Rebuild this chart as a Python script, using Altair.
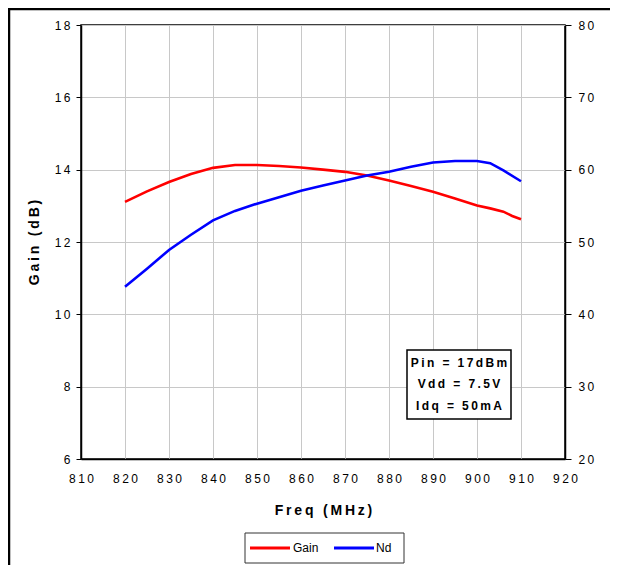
import altair as alt
import pandas as pd

# ---- data ----
freq_gain = [820, 825, 830, 835, 840, 845, 850, 855, 860, 865, 870, 875, 880, 885, 890, 895, 900, 903, 906, 908, 910]
gain_db = [13.11, 13.40, 13.66, 13.88, 14.05, 14.13, 14.13, 14.10, 14.06, 14.00, 13.94, 13.84, 13.70, 13.55, 13.39, 13.20, 13.01, 12.93, 12.84, 12.72, 12.63]

freq_nd = [820, 825, 830, 835, 840, 845, 850, 855, 860, 865, 870, 875, 880, 885, 890, 895, 900, 903, 906, 910]
nd_pct = [43.8, 46.3, 48.9, 51.0, 53.0, 54.3, 55.3, 56.2, 57.1, 57.8, 58.5, 59.2, 59.7, 60.4, 61.0, 61.2, 61.2, 60.9, 59.9, 58.4]

x_ticks = list(range(810, 921, 10))
gain_ticks = list(range(6, 19, 2))
nd_ticks = list(range(20, 81, 10))
series_names = ["Gain", "Nd"]
series_colors = ["#FF0000", "#0000FF"]
note_lines = ["Pin = 17dBm", "Vdd = 7.5V", "Idq = 50mA"]

FONT = "Liberation Sans"
TS = "\u2009"


def spaced(s):
    return TS.join(list(s))


W, H = 484, 434
PAD = {"left": 73, "top": 17, "right": 45, "bottom": 106}

df_gain = pd.DataFrame({"freq": freq_gain, "val": gain_db, "series": "Gain"})
df_nd = pd.DataFrame({"freq": freq_nd, "val": nd_pct, "series": "Nd"})

label_expr = "join(split(datum.label, ''), '" + TS + "')"

x_enc = alt.X(
    "freq:Q",
    scale=alt.Scale(domain=[810, 920], nice=False),
    axis=alt.Axis(
        values=x_ticks,
        title=spaced("Freq (MHz)"),
        titleFont=FONT, titleFontSize=14, titleFontWeight="bold", titleColor="black",
        titleBaseline="top", titleY=44,
        labelFont=FONT, labelFontSize=12, labelColor="black", labelPadding=14,
        labelExpr=label_expr, labelFlush=False, labelOverlap=False,
        ticks=False, tickSize=0,
        domainColor="black", domainWidth=1.5,
        grid=True, gridColor="#c8c8c8", gridWidth=1,
    ),
)

color_scale = alt.Scale(domain=series_names, range=series_colors)
color_enc = alt.Color("series:N", scale=color_scale, legend=None)

gain_line = alt.Chart(df_gain).mark_line(strokeWidth=2.6, clip=False).encode(
    x=x_enc,
    y=alt.Y(
        "val:Q",
        scale=alt.Scale(domain=[6, 18], nice=False),
        axis=alt.Axis(
            values=gain_ticks,
            title=spaced("Gain (dB)"),
            titleFont=FONT, titleFontSize=14, titleFontWeight="bold", titleColor="black",
            titleX=-40, titleY=H / 2,
            labelFont=FONT, labelFontSize=12, labelColor="black", labelPadding=6,
            labelExpr=label_expr,
            tickSize=5, tickColor="black", tickWidth=1,
            domainColor="black", domainWidth=1.5,
            grid=True, gridColor="#c8c8c8", gridWidth=1,
        ),
    ),
    color=color_enc,
)

nd_line = alt.Chart(df_nd).mark_line(strokeWidth=2.6, clip=False).encode(
    x=x_enc,
    y=alt.Y(
        "val:Q",
        scale=alt.Scale(domain=[20, 80], nice=False),
        axis=alt.Axis(
            orient="right",
            values=nd_ticks,
            title=None,
            labelFont=FONT, labelFontSize=12, labelColor="black", labelPadding=7,
            labelExpr=label_expr,
            tickSize=6, tickColor="black", tickWidth=1,
            domainColor="black", domainWidth=1.5,
            grid=False,
        ),
    ),
    color=color_enc,
)

one = pd.DataFrame({"a": [0]})

# annotation box with operating conditions
note_box = alt.Chart(one).mark_rect(
    fill="white", stroke="black", strokeWidth=1.5
).encode(
    x=alt.value(326), x2=alt.value(430), y=alt.value(325), y2=alt.value(394)
)
note_layers = []
for i, line in enumerate(note_lines):
    note_layers.append(
        alt.Chart(one).mark_text(
            font=FONT, fontSize=12, fontWeight="bold", color="black",
            align="center", baseline="middle",
        ).encode(x=alt.value(378), y=alt.value(337.5 + 21.5 * i), text=alt.value(spaced(line)))
    )

# legend box below the axis title
leg_box = alt.Chart(one).mark_rect(
    fill="white", stroke="#333333", strokeWidth=1
).encode(x=alt.value(164), x2=alt.value(323), y=alt.value(508), y2=alt.value(538))

leg_df = pd.DataFrame({
    "series": series_names,
    "x1": [169, 253],
    "x2": [209, 293],
    "tx": [212, 295],
})
leg_lines = alt.Chart(leg_df).mark_rule(strokeWidth=3).encode(
    x=alt.X("x1:Q", scale=None), x2="x2:Q", y=alt.value(523),
    color=alt.Color("series:N", scale=color_scale, legend=None),
)
leg_text = alt.Chart(leg_df).mark_text(
    font=FONT, fontSize=12, color="black", align="left", baseline="middle"
).encode(x=alt.X("tx:Q", scale=None), y=alt.value(523), text="series:N")

# outer frame lines of the source figure
frame_left = alt.Chart(one).mark_rule(
    color="black", strokeWidth=2.5
).encode(x=alt.value(-72), y=alt.value(-PAD["top"]), y2=alt.value(H + PAD["bottom"]))
frame_top = alt.Chart(one).mark_rule(
    color="black", strokeWidth=2.5
).encode(y=alt.value(-16), x=alt.value(-PAD["left"]), x2=alt.value(W + PAD["right"]))

chart = (
    alt.layer(gain_line, nd_line, note_box, *note_layers, leg_box, leg_lines, leg_text,
              frame_left, frame_top)
    .resolve_scale(y="independent")
    .properties(
        width=W, height=H,
        padding=PAD,
        autosize=alt.AutoSizeParams(type="none"),
        background="white",
    )
    .configure_view(stroke="black", strokeWidth=1.5)
)

chart.save("out.html", embed_options={"renderer": "svg", "actions": False})
